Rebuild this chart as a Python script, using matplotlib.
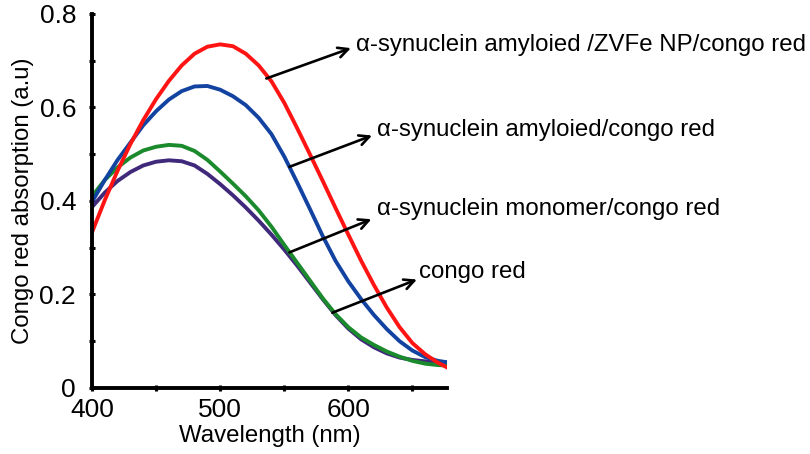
import numpy as np
import matplotlib
matplotlib.use('Agg')
import matplotlib.pyplot as plt

plt.rcParams['font.family'] = ['Liberation Sans', 'DejaVu Sans']

# wavelength grid (nm)
wl = [400, 410, 420, 430, 440, 450, 460, 470, 480, 490, 500, 510, 520, 530, 540,
      550, 560, 570, 580, 590, 600, 610, 620, 630, 640, 650, 660, 670, 677]

# alpha-synuclein amyloid / ZVFe NP / congo red
red_abs = [0.333, 0.402, 0.465, 0.522, 0.573, 0.618, 0.657, 0.69, 0.715, 0.73, 0.735,
           0.731, 0.715, 0.69, 0.656, 0.61, 0.556, 0.50, 0.443, 0.385, 0.328, 0.272,
           0.22, 0.172, 0.13, 0.096, 0.072, 0.054, 0.044]
# alpha-synuclein amyloid / congo red
blue_abs = [0.398, 0.445, 0.488, 0.525, 0.562, 0.592, 0.617, 0.635, 0.645, 0.646, 0.638,
            0.624, 0.605, 0.578, 0.543, 0.495, 0.44, 0.383, 0.325, 0.272, 0.228, 0.19,
            0.156, 0.126, 0.10, 0.08, 0.066, 0.058, 0.055]
# alpha-synuclein monomer / congo red
green_abs = [0.41, 0.445, 0.472, 0.493, 0.508, 0.516, 0.52, 0.518, 0.507, 0.488, 0.463,
             0.437, 0.41, 0.38, 0.345, 0.306, 0.268, 0.23, 0.192, 0.158, 0.13, 0.108,
             0.092, 0.078, 0.067, 0.058, 0.052, 0.049, 0.048]
# congo red alone
purple_abs = [0.387, 0.418, 0.443, 0.462, 0.476, 0.484, 0.487, 0.485, 0.476, 0.458, 0.436,
              0.412, 0.386, 0.358, 0.328, 0.296, 0.262, 0.226, 0.19, 0.156, 0.127, 0.104,
              0.087, 0.074, 0.065, 0.06, 0.057, 0.055, 0.055]

labels = ['α-synuclein amyloied /ZVFe NP/congo red',
          'α-synuclein amyloied/congo red',
          'α-synuclein monomer/congo red',
          'congo red']
# arrow start on curve, arrow tip (data coords)
arrow_from = [(536, 0.662), (554, 0.473), (554, 0.29), (587.5, 0.161)]
arrow_to = [(602, 0.727), (618.5, 0.54), (618, 0.361), (653.5, 0.232)]
text_pos = [(606, 0.733), (622, 0.551), (622, 0.383), (655, 0.249)]

fig = plt.figure(figsize=(8.1, 4.54), dpi=100)
ax = fig.add_axes([0.1136, 0.1454, 0.4383, 0.8238])

ax.plot(wl, purple_abs, color='#40297a', lw=2.8)
ax.plot(wl, green_abs, color='#1a8a2c', lw=2.8)
ax.plot(wl, blue_abs, color='#1343a0', lw=2.8)
ax.plot(wl, red_abs, color='#ff1414', lw=2.8)

for i in range(4):
    ax.annotate('', xy=arrow_to[i], xytext=arrow_from[i], annotation_clip=False,
                arrowprops=dict(arrowstyle='->', color='black', lw=1.9,
                                mutation_scale=18, shrinkA=0, shrinkB=0))
    ax.text(text_pos[i][0], text_pos[i][1], labels[i], fontsize=17.3,
            ha='left', va='center', clip_on=False)

ax.set_xlim(400, 677)
ax.set_ylim(0, 0.8)
ax.set_xticks([400, 500, 600])
ax.set_xticks([450, 550, 650], minor=True)
ax.set_yticks([0, 0.2, 0.4, 0.6, 0.8])
ax.set_yticklabels(['0', '0.2', '0.4', '0.6', '0.8'])
ax.set_yticks([0.1, 0.3, 0.5, 0.7], minor=True)
ax.tick_params(which='both', direction='inout', length=5, width=2.2, labelsize=19)
ax.tick_params(axis='y', pad=9)
ax.tick_params(axis='x', pad=5)

for s in ['top', 'right']:
    ax.spines[s].set_visible(False)
for s in ['left', 'bottom']:
    ax.spines[s].set_linewidth(2.8)

ax.set_xlabel('Wavelength (nm)', fontsize=17.3, labelpad=2)
ax.set_ylabel('Congo red absorption (a.u)', fontsize=17.3, labelpad=4)

fig.savefig('out.png', dpi=100)
